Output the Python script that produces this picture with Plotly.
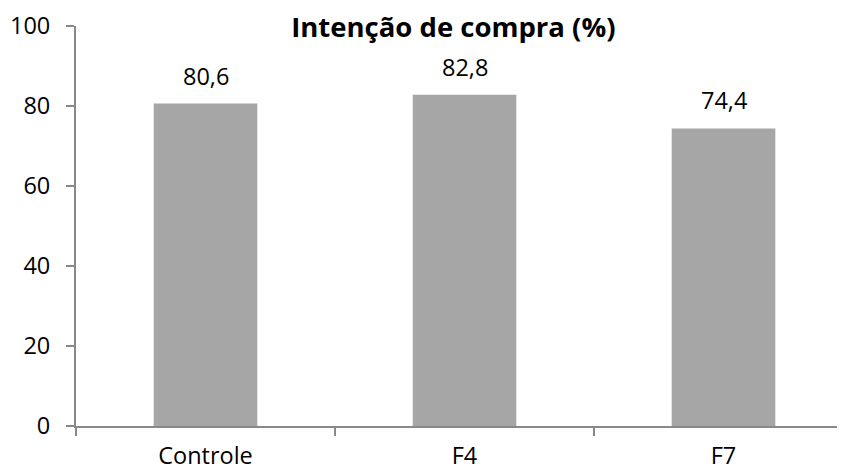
import plotly.graph_objects as go

categories = ["Controle", "F4", "F7"]
values = [80.6, 82.8, 74.4]
title_text = "Intenção de compra (%)"
y_ticks = [0, 20, 40, 60, 80, 100]

FONT = "Open Sans"
FS = 23.5

fig = go.Figure()
fig.add_trace(go.Bar(
    x=categories, y=values,
    marker=dict(color="#A6A6A6", line=dict(width=0)),
    width=0.4,
    hoverinfo="skip",
))

for c, v in zip(categories, values):
    fig.add_annotation(
        x=c, y=v, text=f"{v:.1f}".replace(".", ","),
        showarrow=False, yanchor="bottom", yshift=10,
        font=dict(family=FONT, size=FS, color="#000000"),
    )

fig.update_layout(
    width=845, height=470,
    margin=dict(l=68, r=8, t=18, b=52, autoexpand=False),
    paper_bgcolor="white", plot_bgcolor="white",
    showlegend=False,
    font=dict(family=FONT, size=FS, color="#000000"),
    title=dict(text=f"<b>{title_text}</b>", x=0.527, xanchor="center",
               y=0.9585, yanchor="middle", automargin=False,
               font=dict(family=FONT, size=27.5, color="#000000")),
)
fig.update_xaxes(
    type="category", range=[-0.5, 2.469], automargin=False,
    showline=True, linecolor="#898989", linewidth=2,
    ticks="outside", tickson="boundaries", ticklen=8, tickcolor="#898989", tickwidth=1.5,
    ticklabelstandoff=8,
    showgrid=False, zeroline=False,
    tickfont=dict(family=FONT, size=FS, color="#000000"),
)
fig.update_yaxes(
    range=[0, 100], tickvals=y_ticks, automargin=False,
    showline=True, linecolor="#898989", linewidth=2,
    ticks="outside", ticklen=8, tickcolor="#898989", tickwidth=1.5,
    ticklabelstandoff=11,
    showgrid=False, zeroline=False,
    tickfont=dict(family=FONT, size=FS, color="#000000"),
)

fig.write_html("out.html")
